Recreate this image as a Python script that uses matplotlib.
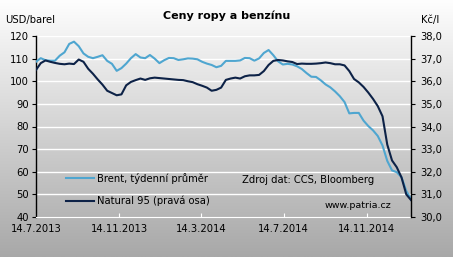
import numpy as np
import pandas as pd
import matplotlib
matplotlib.use("Agg")
import matplotlib.pyplot as plt
from matplotlib.colors import LinearSegmentedColormap

# weekly data, 14.7.2013 - 18.1.2015
dates = pd.date_range("2013-07-14", periods=80, freq="7D")

brent = [108.6, 110.2, 109.3, 109.1, 109.1, 111.3, 112.8, 116.5, 117.5, 115.5,
         112.3, 110.8, 110.2, 110.8, 111.5, 109.0, 107.7, 104.6, 105.8, 107.8,
         110.2, 112.0, 110.5, 110.2, 111.6, 110.0, 108.0, 109.3, 110.3, 110.2,
         109.4, 109.7, 110.1, 110.0, 109.7, 108.6, 107.8, 107.2, 106.2, 106.8,
         109.0, 109.0, 109.0, 109.2, 110.3, 110.2, 109.1, 110.1, 112.5,
         113.8, 111.5, 108.8, 107.4, 107.7, 107.4, 106.6, 105.4, 103.6, 102.0,
         101.9, 100.4, 98.6, 97.3, 95.5, 93.4, 90.8, 85.8, 86.0, 86.0,
         82.6, 80.2, 78.3, 75.8, 71.6, 64.8, 60.6, 59.8, 57.6, 51.5, 48.0]

natural = [36.50, 36.80, 36.92, 36.86, 36.81, 36.77, 36.75, 36.78, 36.76, 36.96,
           36.86, 36.55, 36.33, 36.08, 35.85, 35.58, 35.48, 35.38, 35.42, 35.82,
           35.97, 36.05, 36.12, 36.06, 36.13, 36.16, 36.14, 36.12, 36.10, 36.08,
           36.06, 36.05, 36.00, 35.96, 35.87, 35.80, 35.72, 35.58, 35.62, 35.72,
           36.06, 36.12, 36.16, 36.12, 36.22, 36.26, 36.26, 36.28, 36.45,
           36.72, 36.90, 36.94, 36.92, 36.88, 36.85, 36.76, 36.78, 36.77, 36.77,
           36.78, 36.80, 36.83, 36.80, 36.75, 36.75, 36.70, 36.45, 36.10, 35.95,
           35.75, 35.50, 35.22, 34.90, 34.45, 33.20, 32.50, 32.20, 31.75, 31.00, 30.75]

xtick_dates = pd.to_datetime(["2013-07-14", "2013-11-14", "2014-03-14", "2014-07-14", "2014-11-14"])
xtick_labels = ["14.7.2013", "14.11.2013", "14.3.2014", "14.7.2014", "14.11.2014"]
left_ticks = [40, 50, 60, 70, 80, 90, 100, 110, 120]
right_ticks = [30, 31, 32, 33, 34, 35, 36, 37, 38]

c_brent = "#4fa6d0"
c_nat = "#0d2247"
fs = 7.2
lw = 1.5

fig = plt.figure(figsize=(4.53, 2.57), dpi=100)

# background gradient
bg = fig.add_axes([0, 0, 1, 1], zorder=-10)
cmap = LinearSegmentedColormap.from_list("bg", ["#fefefe", "#a8a8a8"])
bg.imshow(np.linspace(0, 1, 256).reshape(-1, 1), aspect="auto", cmap=cmap,
          extent=[0, 1, 0, 1])
bg.set_axis_off()

ax = fig.add_axes([36 / 453, 1 - 217 / 257, 375 / 453, 181 / 257])
ax.patch.set_alpha(0)
ax.set_ylim(40, 120)
ax.set_yticks(left_ticks)
for t in left_ticks[1:]:
    ax.axhline(t, color="white", lw=1, zorder=0)
ax.plot(dates, brent, color=c_brent, lw=lw, label="Brent, týdenní průměr", zorder=3)
ax.plot([], [], color=c_nat, lw=lw, label="Natural 95 (pravá osa)")
ax.set_xlim(dates[0], dates[-1])
ax.set_xticks(xtick_dates)
ax.set_xticklabels(xtick_labels)
ax.tick_params(axis="x", direction="in", colors="white", length=3, pad=5,
               labelcolor="black", labelsize=fs)
ax.tick_params(axis="y", direction="out", length=3, width=0.8, labelsize=fs, pad=2)
ax.spines["top"].set_visible(False)
ax.spines["right"].set_visible(False)
ax.spines["bottom"].set_color("white")
ax.spines["left"].set_linewidth(1)

ax2 = ax.twinx()
ax2.set_ylim(30, 38)
ax2.set_yticks(right_ticks)
ax2.set_yticklabels([f"{v:.1f}".replace(".", ",") for v in right_ticks])
ax2.plot(dates, natural, color=c_nat, lw=lw, zorder=4)
ax2.tick_params(axis="y", direction="out", length=3, width=0.8, labelsize=fs, pad=4)
for s in ["top", "left", "bottom"]:
    ax2.spines[s].set_visible(False)
ax2.spines["right"].set_linewidth(1)

leg = ax.legend(loc="lower left", bbox_to_anchor=(0.08, 0.06), frameon=False,
                fontsize=fs, handlelength=2.8, handletextpad=0.3, labelspacing=1.2,
                borderpad=0, borderaxespad=0)

fig.text(0.5, 0.94, "Ceny ropy a benzínu", ha="center", va="center",
         fontsize=8, fontweight="bold")
fig.text(5 / 453, 1 - 20 / 257, "USD/barel", ha="left", va="center", fontsize=fs)
fig.text(421 / 453, 1 - 20 / 257, "Kč/l", ha="left", va="center", fontsize=fs)
ax.text(0.55, 0.205, "Zdroj dat: CCS, Bloomberg", transform=ax.transAxes,
        fontsize=fs, ha="left", va="center")
ax.text(0.77, 0.066, "www.patria.cz", transform=ax.transAxes,
        fontsize=fs * 0.95, ha="left", va="center")

fig.savefig("out.png", dpi=100)
